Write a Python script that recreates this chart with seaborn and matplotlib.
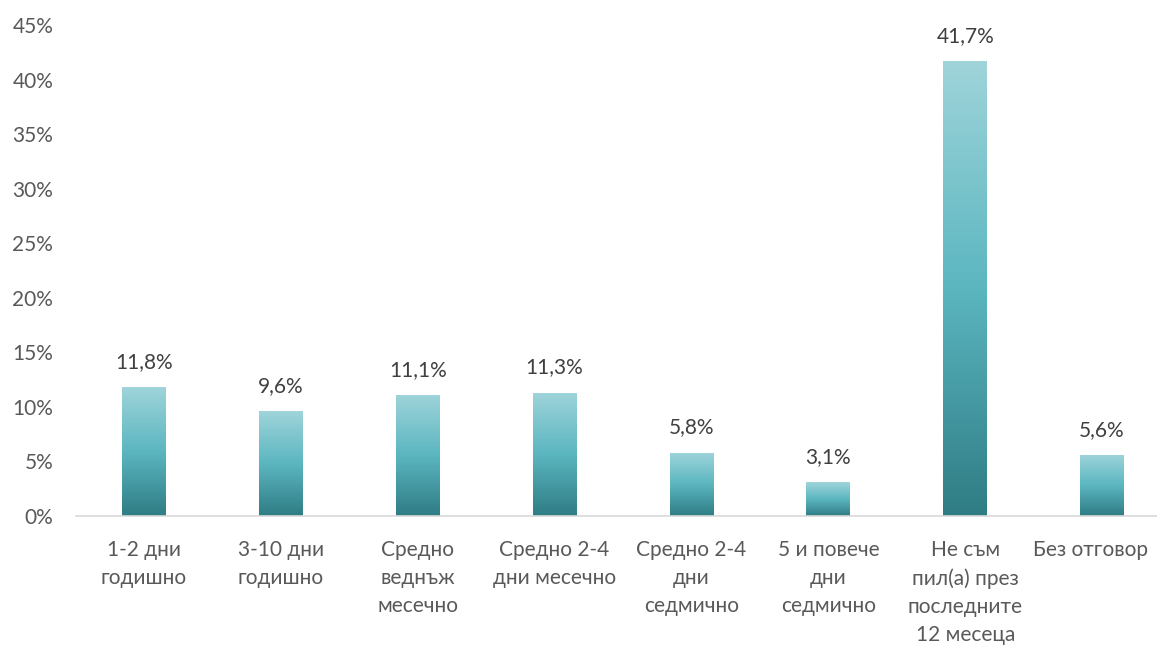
import numpy as np
import pandas as pd
import matplotlib
matplotlib.use("Agg")
import matplotlib.pyplot as plt
import matplotlib.transforms as mtransforms
import seaborn as sns
from matplotlib.colors import LinearSegmentedColormap
from matplotlib.ticker import MultipleLocator, FuncFormatter

# data
categories = [
    "1-2 дни\nгодишно",
    "3-10 дни\nгодишно",
    "Средно\nведнъж\nмесечно",
    "Средно 2-4\nдни месечно",
    "Средно 2-4\nдни\nседмично",
    "5 и повече\nдни\nседмично",
    "Не съм\nпил(а) през\nпоследните\n12 месеца",
    "Без отговор",
]
values = [11.8, 9.6, 11.1, 11.3, 5.8, 3.1, 41.7, 5.6]
value_labels = ["11,8%", "9,6%", "11,1%", "11,3%", "5,8%", "3,1%", "41,7%", "5,6%"]

df = pd.DataFrame({"cat": categories, "val": values})

sns.set_style("white")
plt.rcParams["font.family"] = ["Lato", "Open Sans", "DejaVu Sans"]
text_color = "#595959"

fig = plt.figure(figsize=(11.57, 6.46), dpi=100)
ax = fig.add_axes([0.0653, 0.2012, 0.9464, 0.760])

sns.barplot(data=df, x="cat", y="val", ax=ax, width=0.32, color="#5bb5bf")

# vertical gradient in each bar, light top -> dark bottom
cmap = LinearSegmentedColormap.from_list("teal", ["#2f7c84", "#5bb6c0", "#9fd4da"])
grad = np.linspace(0, 1, 256).reshape(-1, 1)
for p in ax.patches:
    x0, y0 = p.get_x(), p.get_y()
    w, h = p.get_width(), p.get_height()
    p.set_facecolor("none")
    p.set_edgecolor("none")
    im = ax.imshow(grad, cmap=cmap, aspect="auto", origin="lower",
                   extent=[x0, x0 + w, y0, y0 + h], zorder=2)
    im.set_clip_path(p)

for i, (v, lab) in enumerate(zip(values, value_labels)):
    ax.annotate(lab, (i, v), xytext=(0, 11), textcoords="offset points",
                ha="center", va="bottom", fontsize=15, color="#404040")

ax.set_xlim(-0.5, len(categories) - 0.5)
ax.set_ylim(0, 45)
ax.yaxis.set_major_locator(MultipleLocator(5))
ax.yaxis.set_major_formatter(FuncFormatter(lambda v, _: f"{v:.0f}%"))
ax.set_xlabel("")
ax.set_ylabel("")

for s in ["top", "right", "left"]:
    ax.spines[s].set_visible(False)
ax.spines["bottom"].set_color("#d9d9d9")
ax.spines["bottom"].set_linewidth(1.2)

ax.tick_params(axis="y", length=0, labelsize=15, labelcolor=text_color, pad=16)
ax.tick_params(axis="x", length=0, labelsize=15, labelcolor=text_color, pad=17)
for t in ax.get_xticklabels():
    t.set_linespacing(1.5)
    t.set_va("top")

# last label sits at the right edge, nudge it in so it stays readable
last = ax.get_xticklabels()[-1]
last.set_transform(last.get_transform() + mtransforms.ScaledTranslation(-8 / 72, 0, fig.dpi_scale_trans))

fig.savefig("out.png", dpi=100)
